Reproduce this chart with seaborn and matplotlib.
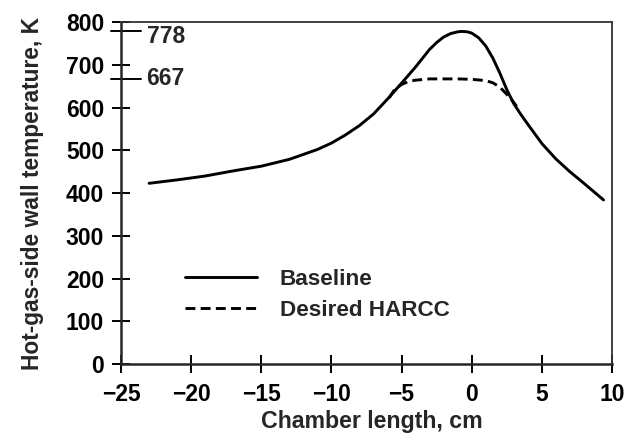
import matplotlib
matplotlib.use("Agg")
import matplotlib.pyplot as plt
import matplotlib.transforms as mtransforms
import pandas as pd
import seaborn as sns

# Chamber position (cm) and hot-gas-side wall temperature (K)
baseline_x = [-23, -21, -19, -17, -15, -13, -11, -10, -9, -8, -7, -6, -5, -4,
              -3, -2.5, -2, -1.5, -1, -0.7, -0.3, 0, 0.5, 1, 1.5, 2, 2.5, 3,
              3.5, 4, 5, 6, 7, 8, 9.4]
baseline_t = [423, 431, 440, 452, 463, 479, 502, 517, 536, 558, 585, 620, 657,
              695, 736, 752, 765, 773, 777, 778, 777, 774, 763, 744, 716, 681,
              642, 609, 584, 561, 516, 480, 450, 423, 384]

harcc_x = [-5.9, -5.5, -5.0, -4.5, -4.0, -3.0, -2.0, -1.0, 0.0, 1.0, 1.5,
           2.0, 2.5, 3.0, 3.2]
harcc_t = [622, 642, 654, 661, 664, 667, 667, 667, 666, 663, 658, 648, 631,
           612, 603]

series_names = ["Baseline", "Desired HARCC"]
marked_values = [778, 667]

x_ticks = [-25, -20, -15, -10, -5, 0, 5, 10]
y_ticks = [0, 100, 200, 300, 400, 500, 600, 700, 800]

df = pd.concat([
    pd.DataFrame({"x": baseline_x, "t": baseline_t, "series": series_names[0]}),
    pd.DataFrame({"x": harcc_x, "t": harcc_t, "series": series_names[1]}),
], ignore_index=True)

sns.set_style("ticks")
plt.rcParams["font.family"] = ["Liberation Sans", "DejaVu Sans"]
plt.rcParams["font.weight"] = "bold"
plt.rcParams["axes.labelweight"] = "bold"

fig = plt.figure(figsize=(6.28, 4.33), dpi=100)
ax = fig.add_axes([0.1927, 0.1587, 0.7818, 0.7905])

sns.lineplot(
    data=df, x="x", y="t", style="series", color="black", linewidth=2.1,
    dashes={series_names[0]: "", series_names[1]: (3.4, 1.8)},
    sort=False, ax=ax,
)

ax.set_xlim(x_ticks[0], x_ticks[-1])
ax.set_ylim(y_ticks[0], y_ticks[-1])
ax.set_xticks(x_ticks)
ax.set_yticks(y_ticks)
ax.tick_params(axis="both", direction="inout", length=13.5, width=1.4,
               colors="black", labelsize=16.5)
ax.tick_params(axis="y", pad=5.5)
ax.tick_params(axis="x", pad=6.5)
for lab in ax.get_xticklabels() + ax.get_yticklabels():
    lab.set_fontweight("bold")

for side in ["left", "bottom"]:
    ax.spines[side].set_linewidth(1.8)
for side in ["top", "right"]:
    ax.spines[side].set_visible(True)
    ax.spines[side].set_linewidth(1.3)
    ax.spines[side].set_color("#333333")

# Long marker ticks for the peak temperatures
trans = mtransforms.blended_transform_factory(ax.transAxes, ax.transData)
offsets = [-4, 0]
for val, dy in zip(marked_values, offsets):
    ax.plot([-0.02, 0.04], [val, val], color="black", linewidth=1.4,
            transform=trans, clip_on=False)
    ax.annotate(str(val), xy=(0.052, val), xycoords=trans,
                xytext=(0, dy), textcoords="offset points",
                ha="left", va="center", fontsize=16.5, fontweight="bold")

ax.set_xlabel("Chamber length, cm", fontsize=16.7, fontweight="bold")
ax.xaxis.set_label_coords(0.511, -0.135)
ax.set_ylabel("Hot-gas-side wall temperature, K", fontsize=16.4,
              fontweight="bold")
ax.yaxis.set_label_coords(-0.157, 0.5)

leg = ax.legend(loc="center left", bbox_to_anchor=(0.108, 0.203),
                frameon=False, fontsize=16.2, handlelength=3.2,
                handletextpad=1.0, borderpad=0, labelspacing=0.45,
                title=None)
for line in leg.get_lines():
    line.set_linewidth(2.1)
for txt in leg.get_texts():
    txt.set_fontweight("bold")

fig.savefig("out.png", dpi=100)
